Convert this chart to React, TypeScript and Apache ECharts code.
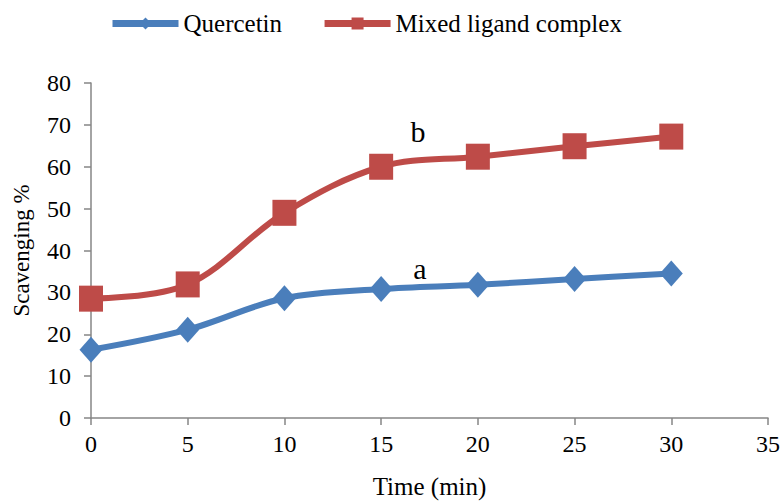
import React, { useEffect, useRef } from "react";
import * as echarts from "echarts";

const timeMin = [0, 5, 10, 15, 20, 25, 30];
const quercetin = [16.3, 21.1, 28.6, 30.8, 31.8, 33.2, 34.5];
const mixedComplex = [28.5, 31.9, 49.0, 60.0, 62.4, 64.9, 67.2];
const seriesNames = ["Quercetin", "Mixed ligand complex"];
const annotations = [
  { text: "a", x: 17, y: 35.8 },
  { text: "b", x: 16.9, y: 68.4 },
];

const FONT = "Liberation Serif";
const BLUE = "#4A7EBB";
const RED = "#BE4B48";
const AXIS = "#868686";

export default function App() {
  const ref = useRef<HTMLDivElement>(null);
  useEffect(() => {
    if (!ref.current) return;
    const chart = echarts.init(ref.current, undefined, { renderer: "svg" });
    const pairs = (ys: number[]) => timeMin.map((t, i) => [t, ys[i]]);
    const txt = (size: number) => ({ fontFamily: FONT, fontSize: size, color: "#000" });
    chart.setOption({
      animation: false,
      backgroundColor: "#ffffff",
      textStyle: { fontFamily: FONT },
      legend: {
        left: 104,
        top: 6,
        itemWidth: 66,
        itemHeight: 15,
        itemGap: 39,
        lineStyle: { width: 7 },
        textStyle: txt(25),
        data: seriesNames,
      },
      grid: { left: 91, right: 13, top: 83, bottom: 80, containLabel: false },
      xAxis: {
        type: "value",
        min: 0,
        max: 35,
        interval: 5,
        name: "Time (min)",
        nameLocation: "middle",
        nameGap: 56,
        nameTextStyle: txt(25),
        axisLine: { show: true, onZero: false, lineStyle: { color: AXIS, width: 1.5 } },
        axisTick: { show: true, inside: false, length: 7, lineStyle: { color: AXIS, width: 1.5 } },
        axisLabel: { ...txt(24), margin: 14 },
        splitLine: { show: false },
      },
      yAxis: {
        type: "value",
        min: 0,
        max: 80,
        interval: 10,
        name: "Scavenging %",
        nameLocation: "middle",
        nameRotate: 90,
        nameGap: 58,
        nameTextStyle: txt(23),
        axisLine: { show: true, lineStyle: { color: AXIS, width: 1.5 } },
        axisTick: { show: true, inside: false, length: 7, lineStyle: { color: AXIS, width: 1.5 } },
        axisLabel: { ...txt(24), margin: 20 },
        splitLine: { show: false },
      },
      series: [
        {
          name: seriesNames[0],
          type: "line",
          data: pairs(quercetin),
          smooth: 0.35,
          symbol: "diamond",
          symbolSize: [23, 26],
          itemStyle: { color: BLUE },
          lineStyle: { color: BLUE, width: 6 },
          z: 3,
          markPoint: {
            symbol: "circle",
            symbolSize: 1,
            itemStyle: { color: "rgba(0,0,0,0)" },
            label: { show: true, position: "inside", ...txt(30) },
            data: [
              { coord: [annotations[0].x, annotations[0].y], value: annotations[0].text, label: { formatter: annotations[0].text } },
            ],
          },
        },
        {
          name: seriesNames[1],
          type: "line",
          data: pairs(mixedComplex),
          smooth: 0.35,
          symbol: "rect",
          symbolSize: [24, 26],
          itemStyle: { color: RED },
          lineStyle: { color: RED, width: 6 },
          z: 2,
          markPoint: {
            symbol: "circle",
            symbolSize: 1,
            itemStyle: { color: "rgba(0,0,0,0)" },
            label: { show: true, position: "inside", ...txt(30) },
            data: [
              { coord: [annotations[1].x, annotations[1].y], value: annotations[1].text, label: { formatter: annotations[1].text } },
            ],
          },
        },
      ],
    });
    return () => chart.dispose();
  }, []);
  return (
    <div
      ref={ref}
      style={{ position: "fixed", left: 0, top: 0, width: 783, height: 504 }}
    />
  );
}
